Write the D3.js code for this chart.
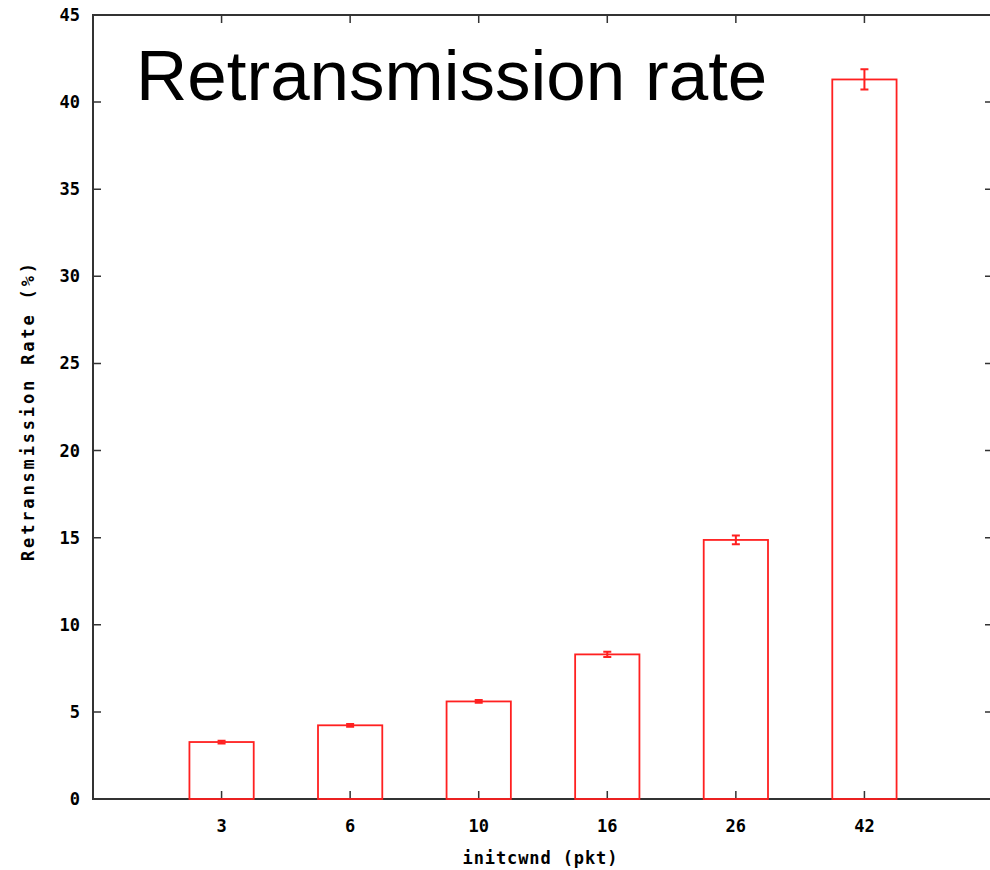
<!DOCTYPE html>
<html>
<head>
<meta charset="utf-8">
<script src="https://cdn.jsdelivr.net/npm/d3@7"></script>
<style>
  body { margin: 0; background: #fff; }
  svg { display: block; }
</style>
</head>
<body>
<svg width="990" height="870"></svg>
<script>
const width = 990;
const height = 870;

const categories = ["3", "6", "10", "16", "26", "42"];
const rates = [3.27, 4.23, 5.6, 8.3, 14.87, 41.3];
const errors = [0.08, 0.08, 0.08, 0.15, 0.25, 0.58];
const yTicks = [0, 5, 10, 15, 20, 25, 30, 35, 40, 45];

const plotLeft = 93, plotTop = 15, plotRight = 993, plotBottom = 799;

const svg = d3.select("svg");

const x = d3.scaleLinear().domain([0, categories.length + 1]).range([plotLeft, plotRight]);
const y = d3.scaleLinear().domain([0, 45]).range([plotBottom, plotTop]);
const band = (x(1) - x(0)) * 0.5;

const monoFont = "'DejaVu Sans Mono', monospace";
const labelSize = 17;

// frame
svg.append("path")
    .attr("d", `M${plotLeft},${plotTop}H${plotRight}V${plotBottom}H${plotLeft}Z`)
    .attr("fill", "none")
    .attr("stroke", "#333")
    .attr("stroke-width", 2);

// y ticks (left and right, inward)
svg.append("g").selectAll("path")
    .data(yTicks.slice(1, -1))
    .join("path")
    .attr("d", d => `M${plotLeft},${y(d)}h8M${plotRight},${y(d)}h-8`)
    .attr("stroke", "#333")
    .attr("stroke-width", 1.5);

svg.append("g").selectAll("text")
    .data(yTicks)
    .join("text")
    .attr("x", plotLeft - 13)
    .attr("y", d => y(d))
    .attr("dy", "0.35em")
    .attr("text-anchor", "end")
    .attr("font-family", monoFont)
    .attr("font-weight", "bold")
    .attr("font-size", labelSize)
    .text(d => d);

// x ticks (bottom and top, inward)
svg.append("g").selectAll("path")
    .data(categories)
    .join("path")
    .attr("d", (d, i) => `M${x(i + 1)},${plotBottom}v-8M${x(i + 1)},${plotTop}v8`)
    .attr("stroke", "#333")
    .attr("stroke-width", 1.5);

svg.append("g").selectAll("text")
    .data(categories)
    .join("text")
    .attr("x", (d, i) => x(i + 1))
    .attr("y", 826)
    .attr("dy", "0.35em")
    .attr("text-anchor", "middle")
    .attr("font-family", monoFont)
    .attr("font-weight", "bold")
    .attr("font-size", labelSize)
    .text(d => d);

// bars
svg.append("g").selectAll("rect")
    .data(rates)
    .join("rect")
    .attr("x", (d, i) => x(i + 1) - band / 2)
    .attr("y", d => y(d))
    .attr("width", band)
    .attr("height", d => plotBottom - y(d))
    .attr("fill", "none")
    .attr("stroke", "#ff2020")
    .attr("stroke-width", 1.8);

// error bars
svg.append("g").selectAll("path")
    .data(rates)
    .join("path")
    .attr("d", (d, i) => {
        const cx = x(i + 1), hi = y(d + errors[i]), lo = y(d - errors[i]);
        return `M${cx},${hi}V${lo}M${cx - 4},${hi}h8M${cx - 4},${lo}h8`;
    })
    .attr("fill", "none")
    .attr("stroke", "#ff2020")
    .attr("stroke-width", 2);

// axis titles
svg.append("text")
    .attr("x", 540)
    .attr("y", 858)
    .attr("dy", "0.35em")
    .attr("text-anchor", "middle")
    .attr("font-family", monoFont)
    .attr("font-weight", "bold")
    .attr("font-size", labelSize)
    .attr("textLength", 155)
    .text("initcwnd (pkt)");

svg.append("text")
    .attr("transform", "translate(28,412) rotate(-90)")
    .attr("dy", "0.35em")
    .attr("text-anchor", "middle")
    .attr("font-family", monoFont)
    .attr("font-weight", "bold")
    .attr("font-size", labelSize)
    .attr("textLength", 298)
    .text("Retransmission Rate (%)");

// slide title
svg.append("text")
    .attr("x", 136)
    .attr("y", 100)
    .attr("font-family", "Arial, 'Liberation Sans', sans-serif")
    .attr("font-size", 71)
    .text("Retransmission rate");
</script>
</body>
</html>
